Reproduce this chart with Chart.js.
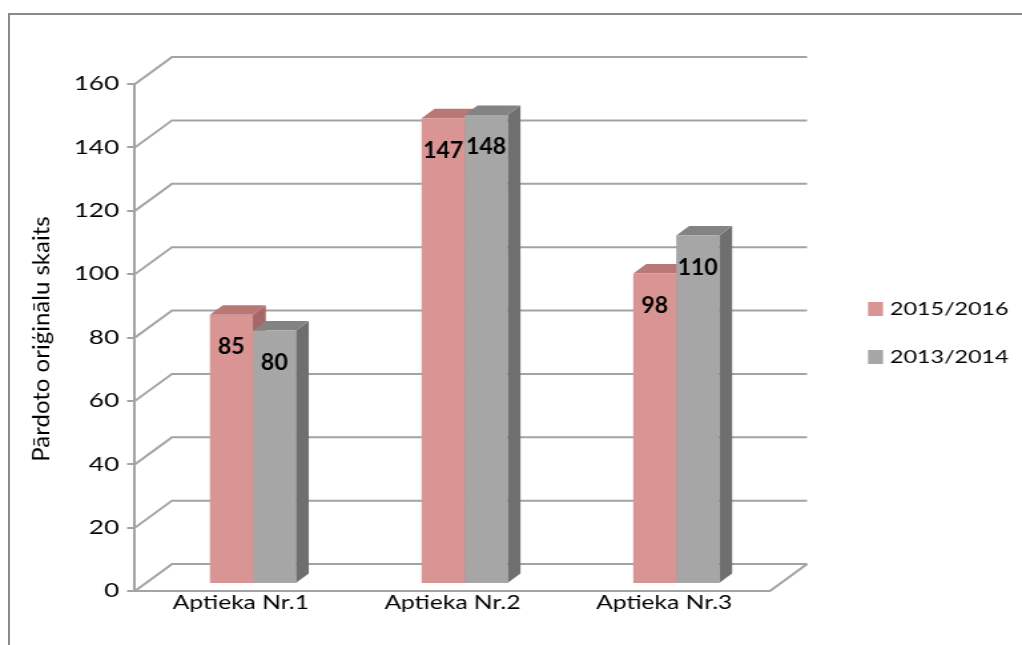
<!DOCTYPE html>
<html>
<head>
<meta charset="utf-8">
<title>Pārdoto oriģinālu skaits</title>
<script src="https://cdn.jsdelivr.net/npm/chart.js@4/dist/chart.umd.min.js"></script>
<style>
    html, body { margin: 0; padding: 0; background: #fff; overflow: hidden; }
    #frame {
        position: absolute; left: 8px; top: 13px; width: 1100px; height: 700px;
        border-top: 2px solid #8a8a8a; border-left: 2px solid #8a8a8a;
    }
    #chart { position: absolute; left: 0; top: 0; }
</style>
</head>
<body>
<div id="frame"></div>
<!-- drawn 768 wide and stretched out to 1022 -->
<canvas id="chart" width="768" height="645" style="width:1022px;height:645px"></canvas>
<script>
// --- Data ---
const categories = ['Aptieka Nr.1', 'Aptieka Nr.2', 'Aptieka Nr.3'];
const seriesNames = ['2015/2016', '2013/2014'];
const sold1516 = [85, 147, 98];
const sold1314 = [80, 148, 110];
const yTickValues = [0, 20, 40, 60, 80, 100, 120, 140, 160];
const yTitle = 'Pārdoto oriģinālu skaits';

// --- Look ---
const STRETCH = 1022 / 768;
const WALL = { dx: 37 / STRETCH, dy: -27 };    // back wall offset
const DEPTH = { dx: 13 / STRETCH, dy: -9.5 };  // bar depth
const SHIFT = { dx: 12 / STRETCH, dy: -7 };    // bars sit a bit into the floor
const GRID = '#a3a3a3';
const FONT = 'Lato, "Open Sans", sans-serif';
const LABEL_DROP = 32;

const faces = [
    { front: '#d99594', top: '#b97776', side: '#a96666' },
    { front: '#a6a6a6', top: '#838383', side: '#6f6f6f' }
];

function fillPoly(ctx, pts) {
    ctx.beginPath();
    ctx.moveTo(pts[0][0], pts[0][1]);
    for (let k = 1; k < pts.length; k++) ctx.lineTo(pts[k][0], pts[k][1]);
    ctx.closePath();
    ctx.fill();
}

// back wall, floor and the top/side faces of the columns
const wall3d = {
    id: 'wall3d',
    beforeDatasetsDraw(chart) {
        const { ctx, chartArea: a, scales: { y } } = chart;
        ctx.save();
        ctx.strokeStyle = GRID;
        ctx.lineWidth = 2;
        yTickValues.forEach(v => {
            const py = y.getPixelForValue(v);
            ctx.beginPath();
            ctx.moveTo(a.left, py);
            ctx.lineTo(a.left + WALL.dx, py + WALL.dy);
            ctx.lineTo(a.right + WALL.dx, py + WALL.dy);
            ctx.stroke();
        });
        ctx.beginPath();
        ctx.moveTo(a.right, a.bottom);
        ctx.lineTo(a.right + WALL.dx, a.bottom + WALL.dy);
        ctx.stroke();

        ctx.translate(SHIFT.dx, SHIFT.dy);
        categories.forEach((c, i) => {
            chart.data.datasets.forEach((ds, d) => {
                const bar = chart.getDatasetMeta(d).data[i];
                const { x, y: top, width, base } = bar.getProps(['x', 'y', 'width', 'base'], true);
                const l = x - width / 2, r = x + width / 2;
                ctx.fillStyle = faces[d].side;
                fillPoly(ctx, [[r, top], [r + DEPTH.dx, top + DEPTH.dy], [r + DEPTH.dx, base + DEPTH.dy], [r, base]]);
                ctx.fillStyle = faces[d].top;
                fillPoly(ctx, [[l, top], [l + DEPTH.dx, top + DEPTH.dy], [r + DEPTH.dx, top + DEPTH.dy], [r, top]]);
            });
        });
        ctx.restore();

        // front faces get drawn by the chart inside this shift
        ctx.save();
        ctx.translate(SHIFT.dx, SHIFT.dy);
    },
    afterDatasetsDraw(chart) {
        const ctx = chart.ctx;
        ctx.restore();

        ctx.save();
        ctx.fillStyle = '#000';
        ctx.font = 'bold 23px ' + FONT;
        ctx.textAlign = 'center';
        ctx.textBaseline = 'middle';
        chart.data.datasets.forEach((ds, d) => {
            chart.getDatasetMeta(d).data.forEach((bar, i) => {
                ctx.save();
                ctx.translate(bar.x + SHIFT.dx, bar.y + SHIFT.dy + LABEL_DROP);
                ctx.scale(1 / STRETCH, 1);
                ctx.fillText(String(ds.data[i]), 0, 0);
                ctx.restore();
            });
        });
        ctx.restore();
    },
    afterDraw(chart) {
        const { ctx, chartArea: a } = chart;
        ctx.save();
        // axis title
        ctx.fillStyle = '#000';
        ctx.font = '24px ' + FONT;
        ctx.textAlign = 'center';
        ctx.textBaseline = 'middle';
        ctx.translate(41.5 / STRETCH, (a.top + a.bottom) / 2 + 1.5);
        ctx.rotate(-Math.PI / 2);
        ctx.scale(1, 1 / STRETCH);
        ctx.fillText(yTitle, 0, 0);
        ctx.restore();

        // legend
        ctx.save();
        ctx.font = '17.5px ' + FONT;
        ctx.textBaseline = 'middle';
        ctx.textAlign = 'left';
        chart.data.datasets.forEach((ds, d) => {
            const cy = 309 + d * 48;
            ctx.fillStyle = ds.backgroundColor;
            ctx.fillRect(868 / STRETCH, cy - 7, 15 / STRETCH, 14);
            ctx.fillStyle = '#000';
            ctx.fillText(ds.label, 890 / STRETCH, cy);
        });
        ctx.restore();
    }
};

const ctx = document.getElementById('chart').getContext('2d');
new Chart(ctx, {
    type: 'bar',
    data: {
        labels: categories,
        datasets: [
            { label: seriesNames[0], data: sold1516, backgroundColor: faces[0].front },
            { label: seriesNames[1], data: sold1314, backgroundColor: faces[1].front }
        ]
    },
    options: {
        responsive: false,
        devicePixelRatio: 1,
        animation: false,
        layout: { padding: { top: 84, right: 768 - 770 / STRETCH, bottom: 0, left: 0 } },
        datasets: { bar: { categoryPercentage: 0.406, barPercentage: 1, borderWidth: 0, clip: false } },
        plugins: { legend: { display: false }, tooltip: { enabled: false } },
        scales: {
            x: {
                grid: { display: false, drawTicks: false },
                border: { display: true, color: GRID, width: 2 },
                ticks: { color: '#000', font: { family: FONT, size: 18.5 }, padding: 1 },
                afterFit(scale) { scale.height = 645 - 591; }
            },
            y: {
                min: 0,
                max: 160,
                afterBuildTicks(scale) { scale.ticks = yTickValues.map(v => ({ value: v })); },
                grid: { display: true, drawOnChartArea: false, drawTicks: true, tickLength: 6, color: GRID, lineWidth: 2 },
                border: { display: true, color: GRID, width: 2 },
                ticks: { color: '#000', font: { family: FONT, size: 19.5 }, padding: 6 },
                afterFit(scale) { scale.width = 135 / STRETCH; }
            }
        }
    },
    plugins: [wall3d]
});
</script>
</body>
</html>
